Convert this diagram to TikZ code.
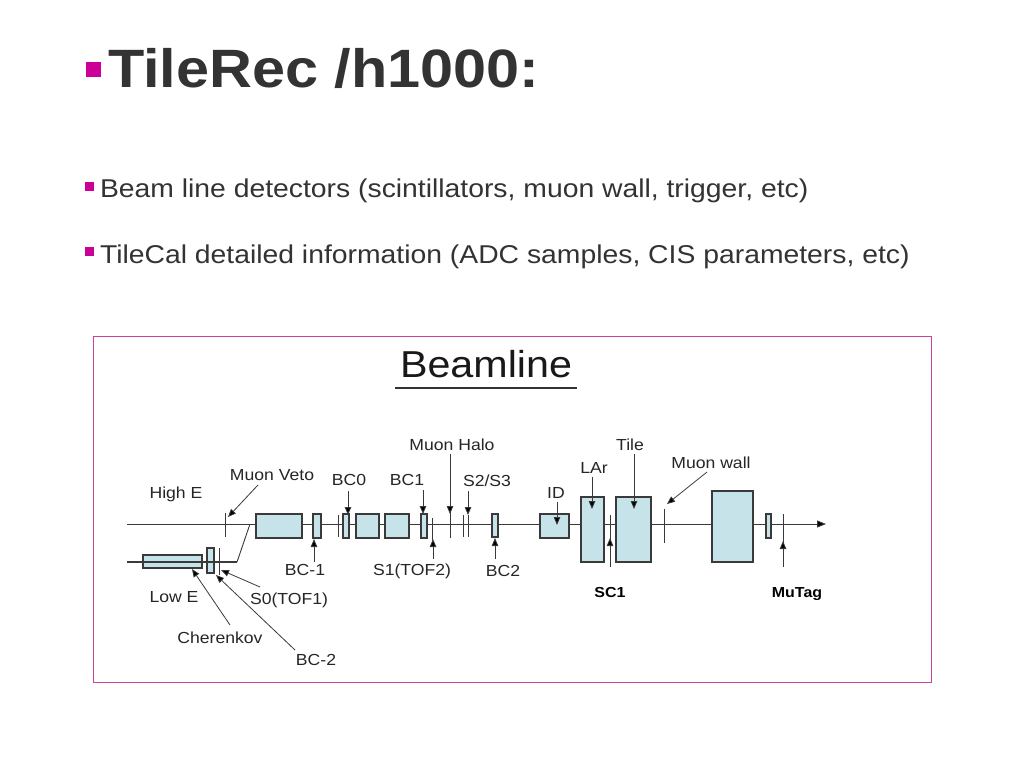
\documentclass[tikz,border=0pt]{standalone}
\usepackage{fontspec}
\setmainfont[FakeStretch=1.1]{Liberation Sans}
\usetikzlibrary{arrows.meta}
\definecolor{txtgray}{HTML}{333333}
\definecolor{bulletmag}{HTML}{CC0099}
\definecolor{framemag}{HTML}{C8449B}
\definecolor{boxfill}{HTML}{C5E3E8}
\definecolor{linegray}{HTML}{3A3A3A}
\tikzset{
  every node/.style={inner sep=0pt, outer sep=0pt},
  lbl/.style={anchor=base, font=\fontsize{16}{19}\selectfont, text=black!85},
  blbl/.style={anchor=base, font=\fontsize{14.5}{17}\selectfont\bfseries, text=black},
  det/.style={draw=linegray, line width=1.3pt, fill=boxfill},
  thinline/.style={draw=linegray, line width=0.9pt},
  ptr/.style={draw=linegray, line width=0.8pt, -{Triangle[length=8pt,width=6.5pt,fill=black]}},
  bsq/.style={fill=bulletmag}
}
\begin{document}
\begin{tikzpicture}[x=1pt,y=-1pt]
\useasboundingbox[fill=white] (0,0) rectangle (1024,768);
% ---- header ----
\fill[bsq] (86,62) rectangle (101,77);
\node[anchor=base west, text=txtgray, font=\fontsize{54}{60}\selectfont\bfseries] (title) at (108,87) {TileRec /h1000:};
\fill[bsq] (85,182) rectangle (94,191);
\node[anchor=base west, text=txtgray, font=\fontsize{25.75}{30}\selectfont] (b1) at (100,197) {Beam line detectors (scintillators, muon wall, trigger, etc)};
\fill[bsq] (85,247) rectangle (94,256);
\node[anchor=base west, text=txtgray, font=\fontsize{25.75}{30}\selectfont] (b2) at (100,263) {TileCal detailed information (ADC samples, CIS parameters, etc)};
% ---- frame ----
\draw[framemag, line width=1pt] (93,336) rectangle (931,682);
\node[anchor=base, font=\fontsize{37.5}{42}\selectfont, text=black!90] (beamline) at (486,377) {Beamline};
\draw[black!80, line width=2.2pt] (395,388) -- (577,388);
% ---- beam lines ----
\coordinate (hstart) at (127,524);
\coordinate (hend) at (826,524);
\draw[thinline, -{Triangle[length=9pt,width=7pt,fill=black]}] (hstart) -- (hend);
\coordinate (lstart) at (127,562);
\coordinate (lbend) at (237,562);
\coordinate (ljoin) at (250,524);
% low-E detectors
\draw[det] (143,555) rectangle (202,568);
\draw[det] (207,548) rectangle (214,573);
\draw[thinline, line width=1.3pt] (lstart) -- (lbend);
\draw[thinline] (lbend) -- (ljoin);
\draw[thinline] (219,548) -- (219,575);
% high-E detectors
\draw[thinline] (225,513) -- (225,537);
\draw[det] (256,514) rectangle (302,538);
\draw[det] (313,514) rectangle (321,538);
\draw[thinline] (338,515) -- (338,537);
\draw[det] (343,514) rectangle (349,538);
\draw[det] (356,514) rectangle (379,538);
\draw[det] (385,514) rectangle (409,538);
\draw[det] (421,514) rectangle (427,538);
\draw[thinline] (432,518) -- (432,540);
\draw[thinline] (450,512) -- (450,538);
\draw[thinline] (463,515) -- (463,537);
\draw[thinline] (468,515) -- (468,537);
\draw[det] (492,514) rectangle (498,537);
\draw[det] (540,514) rectangle (569,538);
\draw[det] (581,497) rectangle (604,562);
\draw[thinline] (610,515) -- (610,567);
\draw[det] (616,497) rectangle (651,562);
\draw[thinline] (664,509) -- (664,543);
\draw[det] (712,491) rectangle (753,562);
\draw[det] (766,514) rectangle (771,538);
\draw[thinline] (783,514) -- (783,567);
% ---- labels ----
\node[lbl] (highE) at (176,498) {High E};
\node[lbl] (lowE) at (174,602) {Low E};
\node[lbl] (muveto) at (272,480) {Muon Veto};
\node[lbl] (bc0) at (349,485) {BC0};
\node[lbl] (bc1) at (407,485) {BC1};
\node[lbl] (muhalo) at (452,450) {Muon Halo};
\node[lbl] (s2s3) at (487,486) {S2/S3};
\node[lbl] (id) at (556,498) {ID};
\node[lbl] (lar) at (594,473) {LAr};
\node[lbl] (tile) at (630,450) {Tile};
\node[lbl] (muwall) at (711,468) {Muon wall};
\node[lbl] (bcm1) at (305,575) {BC-1};
\node[lbl] (s1) at (412,575) {S1(TOF2)};
\node[lbl] (bc2) at (503,576) {BC2};
\node[lbl] (s0) at (289,604) {S0(TOF1)};
\node[lbl] (cher) at (220,643) {Cherenkov};
\node[lbl] (bcm2) at (316,665) {BC-2};
\node[blbl] (sc1) at (610,597) {SC1};
\node[blbl] (mutag) at (797,597) {MuTag};
% ---- pointers ----
\coordinate (tMV) at (258,485); \coordinate (hMV) at (228,517);
\draw[ptr] (tMV) -- (hMV);
\coordinate (tBC0) at (348,491); \coordinate (hBC0) at (348,515);
\draw[ptr] (tBC0) -- (hBC0);
\coordinate (tBC1) at (423,490); \coordinate (hBC1) at (423,514);
\draw[ptr] (tBC1) -- (hBC1);
\coordinate (tMH) at (450,454); \coordinate (hMH) at (450,514);
\draw[ptr] (tMH) -- (hMH);
\coordinate (tS23) at (468,491); \coordinate (hS23) at (468,515);
\draw[ptr] (tS23) -- (hS23);
\coordinate (tID) at (557,502); \coordinate (hID) at (557,525);
\draw[ptr] (tID) -- (hID);
\coordinate (tLAr) at (592,477); \coordinate (hLAr) at (592,509);
\draw[ptr] (tLAr) -- (hLAr);
\coordinate (tTile) at (634,454); \coordinate (hTile) at (634,509);
\draw[ptr] (tTile) -- (hTile);
\coordinate (tMW) at (707,472); \coordinate (hMW) at (667,504);
\draw[ptr] (tMW) -- (hMW);
\coordinate (tBCm1) at (314,562); \coordinate (hBCm1) at (314,539);
\draw[ptr] (tBCm1) -- (hBCm1);
\coordinate (tS1) at (433,559); \coordinate (hS1) at (433,539);
\draw[ptr] (tS1) -- (hS1);
\coordinate (tBC2) at (495,559); \coordinate (hBC2) at (495,538);
\draw[ptr] (tBC2) -- (hBC2);
\coordinate (tSC1) at (610,567); \coordinate (hSC1) at (610,538);
\draw[ptr] (tSC1) -- (hSC1);
\coordinate (tMT) at (783,567); \coordinate (hMT) at (783,541);
\draw[ptr] (tMT) -- (hMT);
\coordinate (tCh) at (230,625); \coordinate (hCh) at (192,569);
\draw[ptr] (tCh) -- (hCh);
\coordinate (tBCm2) at (295,650); \coordinate (hBCm2) at (216,575);
\draw[ptr] (tBCm2) -- (hBCm2);
\coordinate (tS0) at (260,587); \coordinate (hS0) at (221,570);
\draw[ptr] (tS0) -- (hS0);
\end{tikzpicture}
\end{document}
